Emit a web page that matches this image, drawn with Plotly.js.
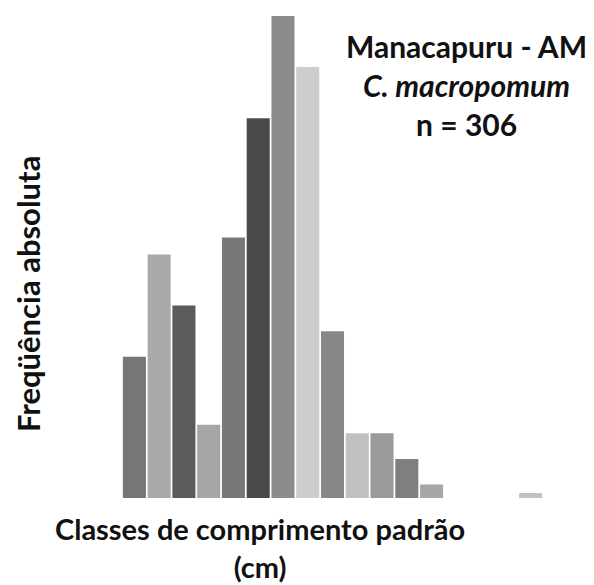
<!DOCTYPE html>
<html>
<head>
<meta charset="utf-8">
<script src="https://cdn.plot.ly/plotly-3.0.1.min.js"></script>
<style>html,body{margin:0;padding:0;background:#fff;}#chart{width:594px;height:585px;}</style>
</head>
<body>
<div id="chart"></div>
<script>
// Length classes (unlabelled in the original), counts per class
const classes = ["c1","c2","c3","c4","c5","c6","c7","c8","c9","c10","c11","c12","c13","c14","c15","c16","c17"];
const counts  = [17, 29, 23, 9, 31, 45, 57, 51, 20, 8, 8, 5, 2, 0, 0, 0, 1];
const barColors = ["#767676","#a9a9a9","#5b5b5b","#a6a6a6","#787878","#4a4a4a","#8c8c8c","#cdcdcd",
                   "#878787","#c0c0c0","#9b9b9b","#7f7f7f","#a7a7a7","#bbbbbb","#bbbbbb","#bbbbbb","#c2c2c2"];
const titleLines = ["<b>Manacapuru - AM</b>", "<b><i>C. macropomum</i></b>", "<b>n = 306</b>"];
const xTitle = "<b>Classes de comprimento padrão</b><br><b>(cm)</b>";
const yTitle = "<b>Freqüência absoluta</b>";

const W = 594, H = 585;
const M = {l: 122, r: 51, t: 16, b: 87};
const plotH = H - M.t - M.b, plotW = W - M.l - M.r;
const px = X => (X - M.l) / plotW;
const py = Y => (H - M.b - Y) / plotH;
const FONT = "Lato, 'Open Sans', sans-serif";

const annotations = [];
const tY = [46, 85, 124];
titleLines.forEach((t, i) => annotations.push({
  text: t, xref: "paper", yref: "paper", x: px(466), y: py(tY[i]),
  xanchor: "center", yanchor: "middle", showarrow: false,
  font: {family: FONT, size: 30, color: "#111"}
}));
annotations.push({
  text: xTitle, xref: "paper", yref: "paper", x: px(260), y: py(547),
  xanchor: "center", yanchor: "middle", showarrow: false, align: "center",
  font: {family: FONT, size: 29, color: "#111"}
});
annotations.push({
  text: yTitle, xref: "paper", yref: "paper", x: px(28), y: py(294),
  xanchor: "center", yanchor: "middle", showarrow: false, textangle: -90,
  font: {family: FONT, size: 31, color: "#111"}
});

const data = [{
  type: "bar", x: classes, y: counts,
  marker: {color: barColors, line: {width: 0}},
  hoverinfo: "skip"
}];
const layout = {
  width: W, height: H, margin: M,
  paper_bgcolor: "#fff", plot_bgcolor: "#fff",
  bargap: 0.07, showlegend: false,
  xaxis: {type: "category", range: [-0.5, 16.5], showticklabels: false, ticks: "",
          showgrid: false, zeroline: false, showline: false},
  yaxis: {range: [0.41, 57], showticklabels: false, ticks: "",
          showgrid: false, zeroline: false, showline: false},
  annotations: annotations
};
Plotly.newPlot("chart", data, layout, {staticPlot: true, displayModeBar: false});
</script>
</body>
</html>
